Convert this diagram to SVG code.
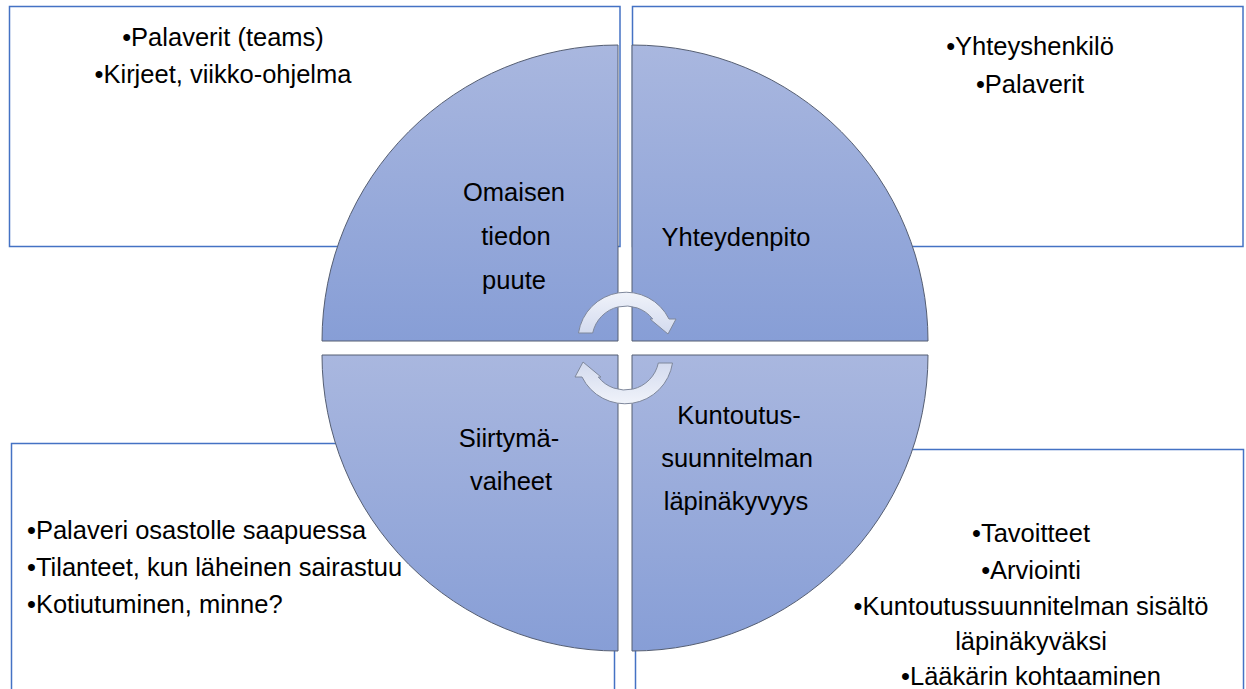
<svg xmlns="http://www.w3.org/2000/svg" width="1246" height="689" viewBox="0 0 1246 689">
  <defs>
    <linearGradient id="qfill" x1="0" y1="0" x2="0" y2="1">
      <stop offset="0" stop-color="#a9b7df"/>
      <stop offset="1" stop-color="#879ed6"/>
    </linearGradient>
    <linearGradient id="afill" x1="0" y1="0" x2="0" y2="1">
      <stop offset="0" stop-color="#f0f3fa"/>
      <stop offset="1" stop-color="#d3daee"/>
    </linearGradient>
    <style>
      .box { fill: #ffffff; stroke: #4472c4; stroke-width: 1.5; }
      .quad { fill: url(#qfill); stroke: #555e72; stroke-width: 1; }
      .arrow { fill: url(#afill); stroke: #7f889c; stroke-width: 1; }
      text { font-family: "Liberation Sans", Arial, sans-serif; font-size: 25.5px; fill: #000000; }
      .mid { text-anchor: middle; }
    </style>
  </defs>
  <rect width="1246" height="689" fill="#ffffff"/>

  <g id="box-tl">
    <rect class="box" x="9.5" y="6.5" width="610.5" height="240"/>
    <text class="mid" x="223" y="46">•Palaverit (teams)</text>
    <text class="mid" x="223" y="83">•Kirjeet, viikko-ohjelma</text>
  </g>
  <g id="box-tr">
    <rect class="box" x="632.5" y="6.5" width="610.5" height="240"/>
    <text class="mid" x="1030" y="55">•Yhteyshenkilö</text>
    <text class="mid" x="1030" y="93">•Palaverit</text>
  </g>
  <g id="box-bl">
    <rect class="box" x="11.5" y="443.5" width="603" height="260"/>
    <text x="27" y="539">•Palaveri osastolle saapuessa</text>
    <text x="27" y="576">•Tilanteet, kun läheinen sairastuu</text>
    <text x="27" y="613">•Kotiutuminen, minne?</text>
  </g>
  <g id="box-br">
    <rect class="box" x="635.5" y="449.5" width="608" height="260"/>
    <text class="mid" x="1031" y="542">•Tavoitteet</text>
    <text class="mid" x="1031" y="579">•Arviointi</text>
    <text class="mid" x="1031" y="615">•Kuntoutussuunnitelman sisältö</text>
    <text class="mid" x="1031" y="650">läpinäkyväksi</text>
    <text class="mid" x="1031" y="685">•Lääkärin kohtaaminen</text>
  </g>

  <g id="quad-tl">
    <path class="quad" d="M618,341 L322,341 A296,296 0 0 1 618,45 Z"/>
    <text class="mid" x="514" y="201">Omaisen</text>
    <text class="mid" x="516" y="245">tiedon</text>
    <text class="mid" x="514" y="289">puute</text>
  </g>
  <g id="quad-tr">
    <path class="quad" d="M632,341 L632,45 A296,296 0 0 1 928,341 Z"/>
    <text class="mid" x="736" y="246">Yhteydenpito</text>
  </g>
  <g id="quad-bl">
    <path class="quad" d="M618,355 L618,651 A296,296 0 0 1 322,355 Z"/>
    <text class="mid" x="509" y="447">Siirtymä-</text>
    <text class="mid" x="511" y="490">vaiheet</text>
  </g>
  <g id="quad-br">
    <path class="quad" d="M632,355 L928,355 A296,296 0 0 1 632,651 Z"/>
    <text class="mid" x="739" y="424">Kuntoutus-</text>
    <text class="mid" x="737" y="467">suunnitelman</text>
    <text class="mid" x="736" y="510">läpinäkyvyys</text>
  </g>

  <g id="connectors">
    <path id="arrow-top" class="arrow" d="M578.5,333 A48,48 0 0 1 669,319 L676,319 L668,334 L650,319 L652.7,319 A34,34 0 0 0 592.7,333 Z"/>
    <path id="arrow-bottom" class="arrow" transform="rotate(180 625.5 348)" d="M578.5,333 A48,48 0 0 1 669,319 L676,319 L668,334 L650,319 L652.7,319 A34,34 0 0 0 592.7,333 Z"/>
  </g>
</svg>
